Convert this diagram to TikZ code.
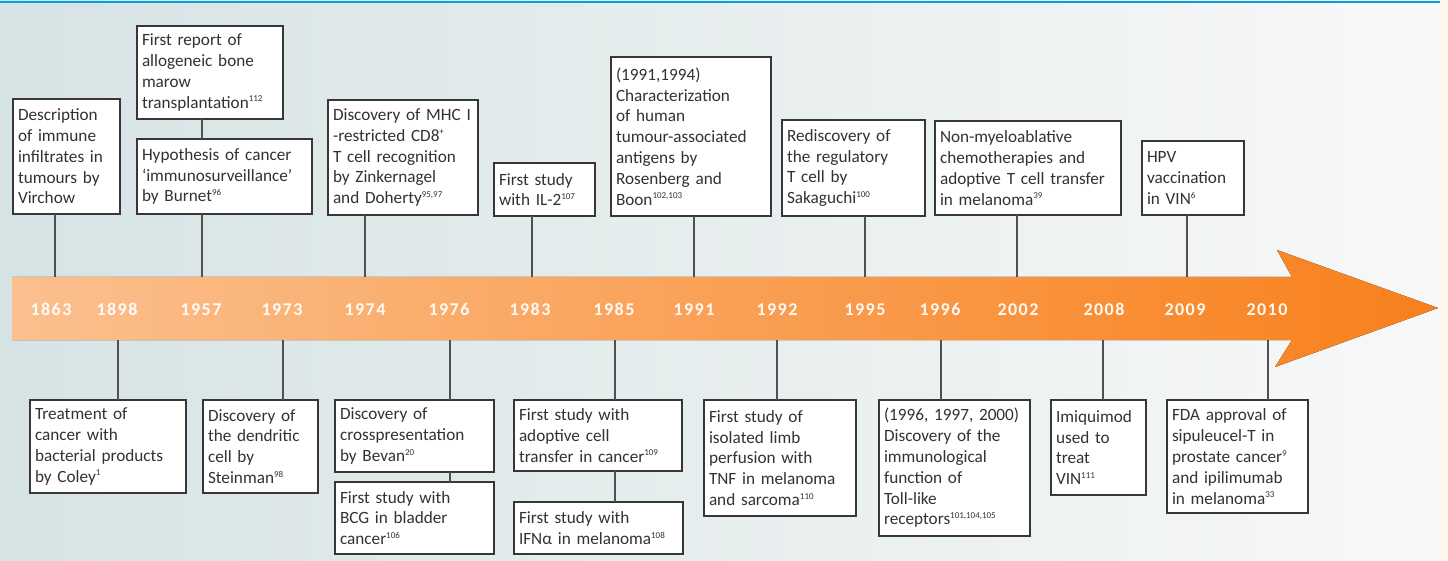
\documentclass[tikz,border=0pt]{standalone}
\usepackage{fontspec}
\setmainfont{Carlito}
\newfontfamily\yearfont[LetterSpace=8]{Carlito}
\newcommand\refsup[1]{\textsuperscript{\fontsize{9pt}{9pt}\selectfont #1}}
\definecolor{bgL}{RGB}{214,227,228}
\definecolor{bgR}{RGB}{248,248,248}
\definecolor{cream}{RGB}{253,247,236}
\definecolor{rule}{RGB}{0,160,225}
\definecolor{arrL}{RGB}{251,192,142}
\definecolor{arrR}{RGB}{248,128,28}
\definecolor{txt}{RGB}{50,50,50}
\definecolor{boxline}{RGB}{55,55,55}
\definecolor{linkc}{RGB}{80,80,80}
\begin{document}
\begin{tikzpicture}[x=1pt,y=-1pt,
  box/.style={draw=boxline, line width=1.4pt, fill=white, text=txt, align=left,
    inner xsep=5pt, inner ysep=0pt, outer sep=0pt, anchor=north west,
    font=\fontsize{17.2pt}{20.8pt}\selectfont},
  link/.style={draw=linkc, line width=1.1pt},
  year/.style={text=white, opacity=0.95, anchor=base,
    font=\yearfont\bfseries\fontsize{18pt}{18pt}\selectfont}]
\useasboundingbox (0,0) rectangle (1448,561);

% background
\fill[left color=bgL, right color=bgR] (0,0) rectangle (1440,561);
\fill[cream] (1440,0) rectangle (1448,561);
\draw[rule, line width=2.5pt] (0,2) -- (1440,2);

% time arrow
\fill[left color=arrL, right color=arrR]
  (12,277) -- (1292,277) -- (1277,250) -- (1438,308) -- (1275,367) -- (1292,340) -- (12,340) -- cycle;

% years
\foreach \yr/\x in {1863/51,1898/117,1957/201,1973/282,1974/365,1976/449,1983/530,1985/614,
  1991/694,1992/777,1995/865,1996/940,2002/1018,2008/1104,2009/1185,2010/1267}
  \node[year] (y\yr) at (\x,316) {\yr};

% anchor points on the arrow edges
\coordinate (t1863) at (55,277);
\coordinate (t1957) at (202,277);
\coordinate (t1974) at (365,277);
\coordinate (t1983) at (532,277);
\coordinate (t1991) at (694,277);
\coordinate (t1995) at (865,277);
\coordinate (t2002) at (1017,277);
\coordinate (t2009) at (1187,277);
\coordinate (b1898) at (118,340);
\coordinate (b1973) at (283,340);
\coordinate (b1976) at (450,340);
\coordinate (b1985) at (615,340);
\coordinate (b1992) at (777,340);
\coordinate (b1996) at (941,340);
\coordinate (b2008) at (1103,340);
\coordinate (b2010) at (1268,340);

% events above the arrow
\node[box, minimum width=107pt, minimum height=115pt, text width=97pt] (vir) at (13,99)
  {Description\\of immune\\infiltrates in\\tumours by\\Virchow};
\node[box, minimum width=146pt, minimum height=93pt, text width=136pt] (bmt) at (137,26)
  {First report of\\allogeneic bone\\marow\\transplantation\refsup{112}};
\node[box, minimum width=175pt, minimum height=75pt, text width=165pt] (bur) at (137,139)
  {Hypothesis of cancer\\`immunosurveillance'\\by Burnet\refsup{96}};
\node[box, minimum width=150pt, minimum height=115pt, text width=140pt] (mhc) at (328,100)
  {Discovery of MHC~I\\-restricted CD8\refsup{+}\\T cell recognition\\by Zinkernagel\\and Doherty\refsup{95,97}};
\node[box, minimum width=101pt, minimum height=53pt, text width=91pt] (il2) at (494,163)
  {First study\\with IL-2\refsup{107}};
\node[box, minimum width=160pt, minimum height=159pt, text width=150pt] (taa) at (611,57)
  {(1991,1994)\\Characterization\\of human\\tumour-associated\\antigens by\\Rosenberg and\\Boon\refsup{102,103}};
\node[box, minimum width=143pt, minimum height=96pt, text width=133pt] (treg) at (782,120)
  {Rediscovery of\\the regulatory\\T cell by\\Sakaguchi\refsup{100}};
\node[box, minimum width=186pt, minimum height=94pt, text width=176pt] (nma) at (935,121)
  {Non-myeloablative\\chemotherapies and\\adoptive T cell transfer\\in melanoma\refsup{39}};
\node[box, minimum width=102pt, minimum height=74pt, text width=92pt] (hpv) at (1142,141)
  {HPV\\vaccination\\in VIN\refsup{6}};

% events below the arrow
\node[box, minimum width=156pt, minimum height=93pt, text width=146pt] (col) at (30,400)
  {Treatment of\\cancer with\\bacterial products\\by Coley\refsup{1}};
\node[box, minimum width=115pt, minimum height=93pt, text width=105pt] (ste) at (203,400)
  {Discovery of\\the dendritic\\cell by\\Steinman\refsup{98}};
\node[box, minimum width=159pt, minimum height=72pt, text width=149pt] (bev) at (335,400)
  {Discovery of\\crosspresentation\\by Bevan\refsup{20}};
\node[box, minimum width=159pt, minimum height=72pt, text width=149pt] (bcg) at (335,482)
  {First study with\\BCG in bladder\\cancer\refsup{106}};
\node[box, minimum width=168pt, minimum height=71pt, text width=158pt] (act) at (514,400)
  {First study with\\adoptive cell\\transfer in cancer\refsup{109}};
\node[box, minimum width=169pt, minimum height=52pt, text width=159pt] (ifn) at (514,502)
  {First study with\\IFNα in melanoma\refsup{108}};
\node[box, minimum width=152pt, minimum height=116pt, text width=142pt] (tnf) at (704,400)
  {First study of\\isolated limb\\perfusion with\\TNF in melanoma\\and sarcoma\refsup{110}};
\node[box, minimum width=151pt, minimum height=136pt, text width=141pt] (tlr) at (879,400)
  {(1996, 1997, 2000)\\Discovery of the\\immunological\\function of\\Toll-like\\receptors\refsup{101,104,105}};
\node[box, minimum width=95pt, minimum height=95pt, text width=85pt] (imq) at (1051,400)
  {Imiquimod\\used to\\treat\\VIN\refsup{111}};
\node[box, minimum width=141pt, minimum height=113pt, text width=131pt] (fda) at (1167,400)
  {FDA approval of\\sipuleucel-T in\\prostate cancer\refsup{9}\\and ipilimumab\\in melanoma\refsup{33}};

% connectors above
\draw[link] (vir.south -| t1863) -- (t1863);
\draw[link] (bmt.south -| t1957) -- (bur.north -| t1957);
\draw[link] (bur.south -| t1957) -- (t1957);
\draw[link] (mhc.south -| t1974) -- (t1974);
\draw[link] (il2.south -| t1983) -- (t1983);
\draw[link] (taa.south -| t1991) -- (t1991);
\draw[link] (treg.south -| t1995) -- (t1995);
\draw[link] (nma.south -| t2002) -- (t2002);
\draw[link] (hpv.south -| t2009) -- (t2009);

% connectors below
\draw[link] (b1898) -- (col.north -| b1898);
\draw[link] (b1973) -- (ste.north -| b1973);
\draw[link] (b1976) -- (bev.north -| b1976);
\draw[link] (bev.south -| b1976) -- (bcg.north -| b1976);
\draw[link] (b1985) -- (act.north -| b1985);
\draw[link] (act.south -| b1985) -- (ifn.north -| b1985);
\draw[link] (b1992) -- (tnf.north -| b1992);
\draw[link] (b1996) -- (tlr.north -| b1996);
\draw[link] (b2008) -- (imq.north -| b2008);
\draw[link] (b2010) -- (fda.north -| b2010);
\end{tikzpicture}
\end{document}
